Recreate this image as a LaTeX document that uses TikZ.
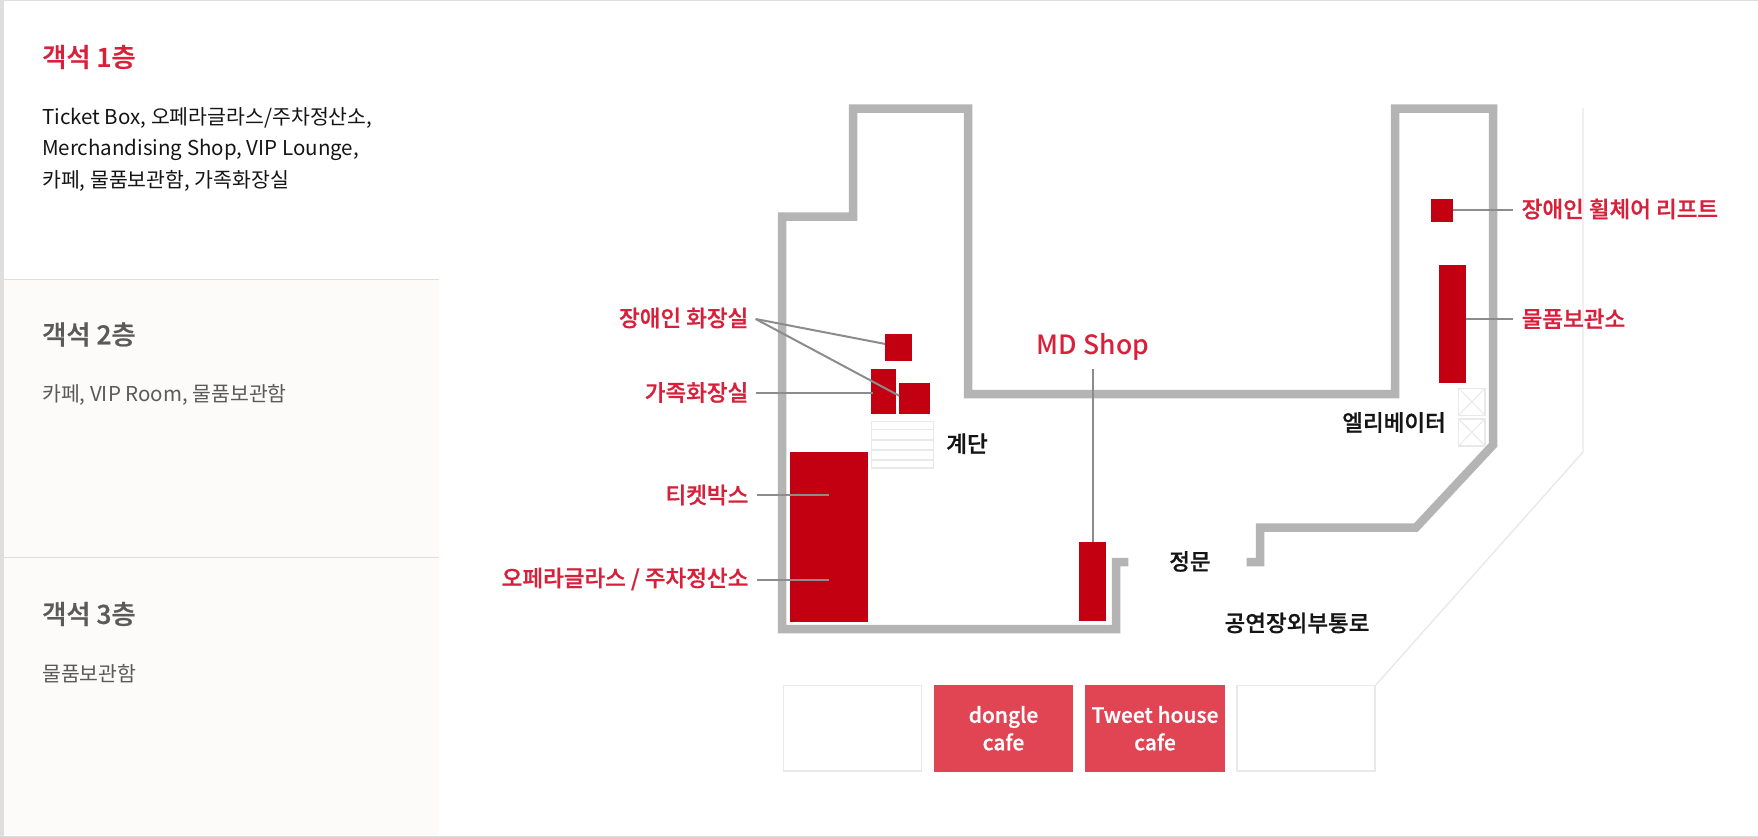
\documentclass[tikz,border=0pt]{standalone}
\usepackage{fontspec}
\setmainfont{Noto Sans CJK KR}
\newfontfamily\medfont{Noto Sans CJK KR Medium}
\newfontfamily\labelfont[FakeBold=0.8]{Noto Sans CJK KR Medium}
\usetikzlibrary{calc}
\definecolor{edgegray}{HTML}{DEDEDE}
\definecolor{panelbg}{HTML}{FCFBF9}
\definecolor{wallgray}{HTML}{B4B4B4}
\definecolor{leadgray}{HTML}{8C8C8C}
\definecolor{thingray}{HTML}{E9E9E9}
\definecolor{roomred}{HTML}{C20011}
\definecolor{cafered}{HTML}{E14553}
\definecolor{textred}{HTML}{D8203B}
\definecolor{textgray}{HTML}{5A5A5A}
\definecolor{textblack}{HTML}{151515}
\tikzset{
         wall/.style={draw=wallgray,line width=8.5pt,miter limit=10},
         thinline/.style={draw=thingray,line width=1.4pt},
         leader/.style={draw=leadgray,line width=2pt},
         redroom/.style={fill=roomred,inner sep=0pt,outer sep=0pt},
         cafe/.style={fill=cafered,inner sep=0pt,outer sep=0pt,minimum width=139.3pt,minimum height=86.7pt,
                      text=white,align=center,font=\labelfont\fontsize{21}{27.5}\selectfont},
         emptycafe/.style={draw=thingray,line width=1.6pt,inner sep=0pt,minimum width=138pt,minimum height=85.5pt},
         leftlabel/.style={anchor=east,inner sep=0pt,outer xsep=7.4pt,text=textred,font=\labelfont\fontsize{22.5}{26}\selectfont},
         rightlabel/.style={anchor=west,inner sep=0pt,outer xsep=8.4pt,text=textred,font=\labelfont\fontsize{22.5}{26}\selectfont},
         blacklabel/.style={inner sep=0pt,text=textblack,font=\labelfont\fontsize{22.5}{26}\selectfont},
         heading/.style={anchor=west,inner sep=0pt,font=\labelfont\fontsize{26.3}{30}\selectfont},
         bodytext/.style={anchor=west,inner sep=0pt,align=left,font=\fontsize{20.5}{31.5}\selectfont}
        }
\begin{document}
\begin{tikzpicture}[x=1pt,y=-1pt]
      \useasboundingbox (0,0) rectangle (1758,837);
      \fill[white] (0,0) rectangle (1758,837);
      \fill[panelbg] (4,280) rectangle (439,835); % lower panels
      \fill[edgegray] (0,0) rectangle (4,837); % left strip
      \fill[edgegray] (0,0) rectangle (1758,1); % top edge
      \fill[edgegray] (0,835.5) rectangle (1758,837); % bottom edge
      \fill[edgegray] (4,278.6) rectangle (439,280); % panel divider
      \fill[edgegray] (4,556.6) rectangle (439,558); % panel divider
      \node[heading,text=textred] (floorone) at (42,57) {객석 1층};
      \node[bodytext,text=textblack] (floorlistone) at (42,149) {Ticket Box, 오페라글라스/주차정산소,\\Merchandising Shop, VIP Lounge,\\카페, 물품보관함, 가족화장실};
      \node[heading,text=textgray] (floortwo) at (42,334.5) {객석 2층};
      \node[bodytext,text=textgray] (floorlisttwo) at (42,394.5) {카페, VIP Room, 물품보관함};
      \node[heading,text=textgray] (floorthree) at (42,614) {객석 3층};
      \node[bodytext,text=textgray] (floorlistthree) at (42,674) {물품보관함};
      \draw[thinline] (1583,108) -- (1583,452) -- (1375.8,685); % outer walkway
      \draw[wall] (1128.3,562) -- (1116,562) -- (1116,629) -- (782,629) -- (782,216.7) -- (853,216.7) -- (853,108.7) -- (968,108.7) -- (968,394) -- (1395,394) -- (1395,108.7) -- (1493,108.7) -- (1493,445) -- (1416,527.5) -- (1260,527.5) -- (1260,562) -- (1246.7,562); % building outline
      \node[redroom,minimum width=77.7pt,minimum height=170pt] (ticketbox) at (828.85,536.7) {};
      \node[redroom,minimum width=26.7pt,minimum height=27pt] (toilettop) at (898.3,347.5) {};
      \node[redroom,minimum width=25pt,minimum height=45pt] (familywc) at (883.2,391.2) {};
      \node[redroom,minimum width=30.7pt,minimum height=30.4pt] (toiletlow) at (914.6,398.5) {};
      \node[redroom,minimum width=22.6pt,minimum height=22.7pt] (liftbox) at (1442,210.3) {};
      \node[redroom,minimum width=26.7pt,minimum height=118.3pt] (storagebox) at (1452.3,323.8) {};
      \node[redroom,minimum width=27pt,minimum height=79pt] (mdbox) at (1092.5,581.5) {};
      \draw[thinline] (871.5,421.2) rectangle (933.5,467.8); % stairs
      \foreach \y in {429.5,440,450,460} \draw[thinline] (871.5,\y) -- (933.5,\y);
      \foreach \y in {388.2,418.8} { % elevators
        \draw[thinline] (1458.5,\y) rectangle (1485,\y+27);
        \draw[thinline,line width=1pt] (1458.5,\y) -- (1485,\y+27) (1458.5,\y+27) -- (1485,\y);
      }
      \node[emptycafe] (cafeone) at (852.5,728.3) {};
      \node[cafe] (dongle) at (1003.5,728.3) {\raisebox{-3pt}{dongle}\\\raisebox{-3pt}{cafe}};
      \node[cafe] (tweet) at (1155,728.3) {Tweet house\\cafe};
      \node[emptycafe] (cafefour) at (1306,728.3) {};
      \node[leftlabel] (toiletlabel) at (755.7,318) {장애인 화장실};
      \node[leftlabel] (familylabel) at (755.7,392.5) {가족화장실};
      \node[leftlabel] (ticketlabel) at (755.7,495) {티켓박스};
      \node[leftlabel] (operalabel) at (755.7,579) {오페라글라스 / 주차정산소};
      \node[rightlabel] (liftlabel) at (1513.3,209) {장애인 휠체어 리프트};
      \node[rightlabel] (storagelabel) at (1513.3,318.7) {물품보관소};
      \node[inner sep=0pt,text=textred,font=\medfont\fontsize{26.5}{30}\selectfont] (mdlabel) at (1093,347) {MD Shop};
      \node[blacklabel] (stairlabel) at (967,443.7) {계단};
      \node[blacklabel] (elevatorlabel) at (1394,422.5) {엘리베이터};
      \node[blacklabel] (gatelabel) at (1190,561.5) {정문};
      \node[blacklabel] (outerlabel) at (1297,623) {공연장외부통로};
      \coordinate (toiletstart) at (755.7,319);
      \coordinate (ticketend) at (828.7,494.7);
      \coordinate (operaend) at (828.7,580.3);
      \coordinate (mdstart) at (1092.5,369);
      \draw[leader] (toiletstart) -- (toilettop.165); % upper toilet
      \draw[leader] (toiletstart) -- (toiletlow.170); % lower toilet
      \draw[leader] (familylabel.east) -- ($(familywc.west |- familylabel.east)+(2,0)$);
      \draw[leader] (ticketlabel.east |- ticketend) ++(1,0) -- (ticketend);
      \draw[leader] (operalabel.east |- operaend) ++(1,0) -- (operaend);
      \draw[leader] (mdstart) -- (mdbox.north);
      \draw[leader] (liftbox.east) -- (liftlabel.west |- liftbox.east);
      \draw[leader] (storagebox.east |- storagelabel.west) -- (storagelabel.west);
\end{tikzpicture}
\end{document}
